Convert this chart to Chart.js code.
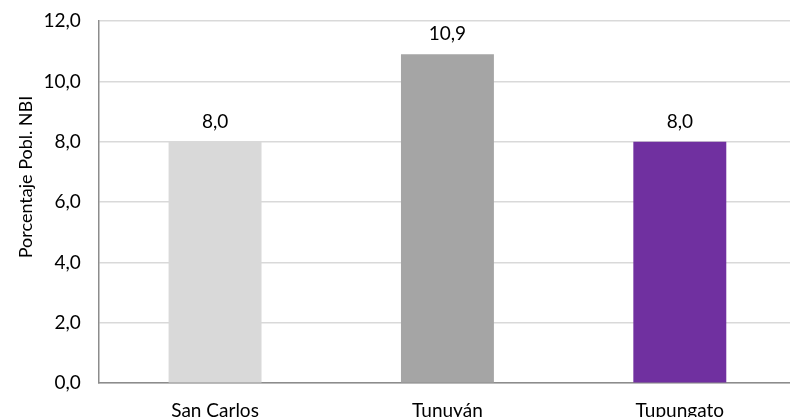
<!DOCTYPE html>
<html>
<head>
<meta charset="utf-8">
<script src="https://cdn.jsdelivr.net/npm/chart.js@4"></script>
<style>
  html, body { margin: 0; padding: 0; background: #fff; overflow: hidden; }
  #wrap { width: 796px; height: 438px; }
</style>
</head>
<body>
<div id="wrap"><canvas id="myChart"></canvas></div>
<script>
// datos
const categorias = ['San Carlos', 'Tunuyán', 'Tupungato'];
const valores = [8.0, 10.9, 8.0];
const colores = ['#d9d9d9', '#a5a5a5', '#7030a0'];
const ticksY = [0, 2, 4, 6, 8, 10, 12];
const tituloY = 'Porcentaje Pobl. NBI';

const fuente = 'Lato, "Noto Sans", sans-serif';
const fmt = v => v.toFixed(1).replace('.', ',');

// etiquetas encima de cada barra + titulo del eje Y (como en Excel, algo mas arriba del centro)
const etiquetas = {
  id: 'etiquetas',
  afterDatasetsDraw(chart) {
    const c = chart.ctx;
    const meta = chart.getDatasetMeta(0);
    c.save();
    c.font = '19px ' + fuente;
    c.fillStyle = '#000';
    c.textAlign = 'center';
    c.textBaseline = 'alphabetic';
    meta.data.forEach((bar, i) => {
      c.fillText(fmt(valores[i]), bar.x, bar.y - 14);
    });
    c.restore();

    c.save();
    c.font = '18px ' + fuente;
    c.fillStyle = '#000';
    c.textAlign = 'center';
    c.textBaseline = 'alphabetic';
    c.translate(32, 177);
    c.rotate(-Math.PI / 2);
    c.fillText(tituloY, 0, 0);
    c.restore();
  }
};

const ctx = document.getElementById('myChart');

new Chart(ctx, {
  type: 'bar',
  data: {
    labels: categorias,
    datasets: [{
      data: valores,
      backgroundColor: colores,
      barPercentage: 0.4,
      categoryPercentage: 1
    }]
  },
  options: {
    responsive: true,
    maintainAspectRatio: false,
    animation: false,
    layout: { padding: { top: 2, right: 0, bottom: 0, left: 25.5 } },
    plugins: {
      legend: { display: false },
      tooltip: { enabled: false }
    },
    scales: {
      x: {
        grid: { display: false, drawTicks: false },
        border: { color: '#8c8c8c', width: 1.5 },
        ticks: {
          color: '#000',
          padding: 16,
          font: { family: fuente, size: 19 }
        }
      },
      y: {
        min: 0,
        max: 12,
        afterBuildTicks(axis) {
          axis.ticks = ticksY.map(v => ({ value: v }));
        },
        grid: { color: '#d9d9d9', lineWidth: 1.5, drawTicks: false },
        border: { color: '#8c8c8c', width: 1.5 },
        ticks: {
          color: '#000',
          padding: 18,
          // lineHeight bajo: evita que Chart.js empuje el area hacia abajo
          font: { family: fuente, size: 19, lineHeight: 0.32 },
          callback: v => fmt(v)
        }
      }
    }
  },
  plugins: [etiquetas]
});
</script>
</body>
</html>
